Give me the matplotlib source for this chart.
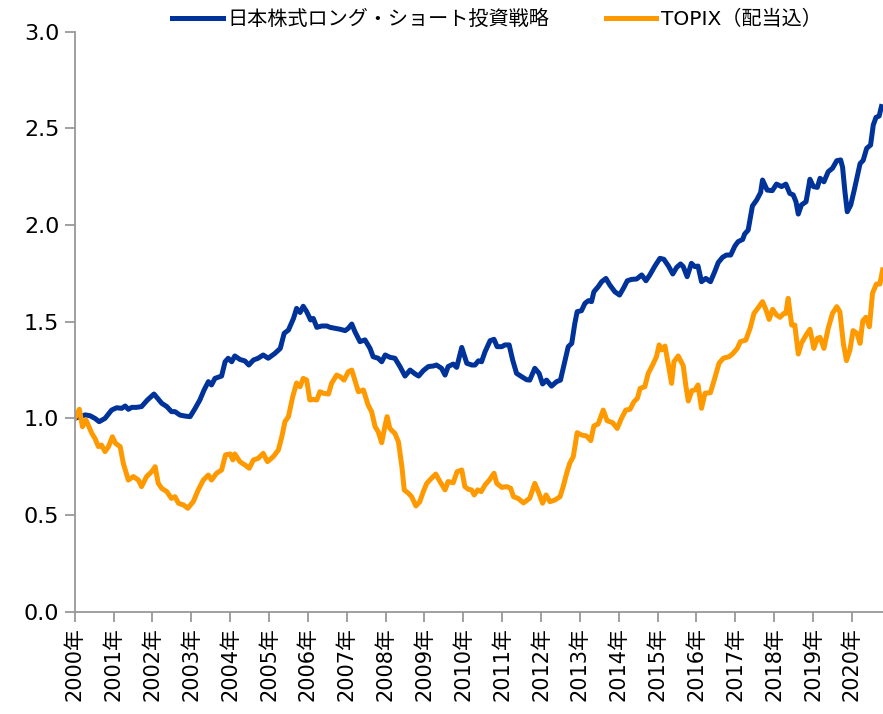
import numpy as np
import matplotlib
matplotlib.use("Agg")
import matplotlib.pyplot as plt

plt.rcParams['font.family'] = ['DejaVu Sans', 'Noto Sans CJK JP']

## series (decimal year, index value)
ls_t = [2000.00, 2000.27, 2000.39, 2000.52, 2000.63, 2000.78, 2000.95, 2001.08, 2001.21, 2001.30,
        2001.38, 2001.47, 2001.59, 2001.72, 2001.87, 2002.04, 2002.24, 2002.37, 2002.49, 2002.58,
        2002.71, 2002.84, 2002.97, 2003.10, 2003.22, 2003.33, 2003.44, 2003.52, 2003.61, 2003.78,
        2003.87, 2003.95, 2004.04, 2004.12, 2004.25, 2004.38, 2004.48, 2004.60, 2004.72, 2004.85,
        2004.98, 2005.15, 2005.29, 2005.39, 2005.50, 2005.63, 2005.71, 2005.80, 2005.88, 2005.97,
        2006.07, 2006.14, 2006.23, 2006.36, 2006.49, 2006.57, 2006.70, 2006.83, 2006.96, 2007.04,
        2007.13, 2007.21, 2007.34, 2007.47, 2007.60, 2007.68, 2007.81, 2007.90, 2007.99, 2008.11,
        2008.24, 2008.37, 2008.50, 2008.63, 2008.76, 2008.85, 2008.97, 2009.10, 2009.23, 2009.31,
        2009.44, 2009.53, 2009.61, 2009.74, 2009.83, 2009.96, 2010.09, 2010.22, 2010.30, 2010.39,
        2010.47, 2010.56, 2010.69, 2010.79, 2010.87, 2010.99, 2011.07, 2011.18, 2011.27, 2011.37,
        2011.50, 2011.63, 2011.71, 2011.84, 2011.95, 2012.04, 2012.14, 2012.27, 2012.40, 2012.50,
        2012.61, 2012.70, 2012.79, 2012.87, 2012.93, 2013.04, 2013.13, 2013.22, 2013.30, 2013.36,
        2013.47, 2013.56, 2013.67, 2013.77, 2013.90, 2014.02, 2014.12, 2014.22, 2014.33, 2014.46,
        2014.59, 2014.70, 2014.80, 2014.93, 2015.06, 2015.16, 2015.28, 2015.39, 2015.49, 2015.59,
        2015.66, 2015.76, 2015.87, 2015.96, 2016.04, 2016.13, 2016.24, 2016.36, 2016.47, 2016.56,
        2016.67, 2016.77, 2016.88, 2016.99, 2017.07, 2017.19, 2017.24, 2017.33, 2017.44, 2017.55,
        2017.65, 2017.70, 2017.82, 2017.95, 2018.06, 2018.19, 2018.30, 2018.40, 2018.49, 2018.56,
        2018.62, 2018.70, 2018.82, 2018.92, 2019.01, 2019.11, 2019.18, 2019.28, 2019.39, 2019.50,
        2019.61, 2019.71, 2019.76, 2019.82, 2019.88, 2019.97, 2020.06, 2020.21, 2020.29, 2020.38,
        2020.48, 2020.55, 2020.62, 2020.70, 2020.76]
ls_v = [1.000, 1.018, 1.014, 1.000, 0.983, 1.000, 1.043, 1.055, 1.052, 1.064,
        1.047, 1.057, 1.057, 1.061, 1.095, 1.126, 1.078, 1.061, 1.035, 1.035,
        1.017, 1.012, 1.009, 1.052, 1.095, 1.147, 1.190, 1.173, 1.207, 1.219,
        1.293, 1.311, 1.293, 1.323, 1.305, 1.297, 1.276, 1.302, 1.311, 1.328,
        1.311, 1.336, 1.362, 1.440, 1.457, 1.517, 1.569, 1.548, 1.580, 1.552,
        1.509, 1.517, 1.471, 1.478, 1.478, 1.471, 1.466, 1.461, 1.454, 1.466,
        1.488, 1.449, 1.397, 1.406, 1.362, 1.319, 1.311, 1.293, 1.328, 1.316,
        1.311, 1.268, 1.219, 1.250, 1.230, 1.219, 1.247, 1.268, 1.271, 1.276,
        1.259, 1.224, 1.268, 1.281, 1.264, 1.367, 1.285, 1.276, 1.276, 1.298,
        1.293, 1.345, 1.402, 1.409, 1.371, 1.371, 1.380, 1.380, 1.302, 1.233,
        1.216, 1.200, 1.198, 1.259, 1.233, 1.178, 1.198, 1.167, 1.190, 1.198,
        1.293, 1.371, 1.388, 1.492, 1.552, 1.557, 1.595, 1.609, 1.604, 1.655,
        1.681, 1.707, 1.724, 1.690, 1.655, 1.638, 1.673, 1.712, 1.719, 1.721,
        1.742, 1.712, 1.742, 1.788, 1.828, 1.823, 1.788, 1.747, 1.781, 1.799,
        1.785, 1.733, 1.802, 1.785, 1.788, 1.707, 1.724, 1.707, 1.759, 1.806,
        1.833, 1.845, 1.845, 1.892, 1.914, 1.926, 1.954, 1.974, 2.099, 2.130,
        2.168, 2.233, 2.181, 2.178, 2.212, 2.199, 2.212, 2.164, 2.156, 2.121,
        2.057, 2.104, 2.121, 2.237, 2.199, 2.195, 2.242, 2.224, 2.276, 2.294,
        2.333, 2.337, 2.299, 2.173, 2.069, 2.104, 2.181, 2.318, 2.335, 2.397,
        2.414, 2.518, 2.557, 2.564, 2.613]

tpx_t = [2000.00, 2000.12, 2000.20, 2000.29, 2000.44, 2000.52, 2000.61, 2000.69, 2000.78, 2000.87,
         2000.97, 2001.05, 2001.17, 2001.25, 2001.38, 2001.51, 2001.64, 2001.72, 2001.85, 2001.98,
         2002.07, 2002.15, 2002.24, 2002.37, 2002.49, 2002.58, 2002.67, 2002.80, 2002.91, 2003.05,
         2003.18, 2003.31, 2003.44, 2003.52, 2003.65, 2003.78, 2003.88, 2004.00, 2004.07, 2004.12,
         2004.25, 2004.38, 2004.49, 2004.60, 2004.72, 2004.85, 2004.96, 2005.11, 2005.24, 2005.33,
         2005.41, 2005.50, 2005.61, 2005.71, 2005.80, 2005.88, 2005.97, 2006.05, 2006.14, 2006.23,
         2006.31, 2006.40, 2006.53, 2006.61, 2006.74, 2006.83, 2006.93, 2007.04, 2007.13, 2007.21,
         2007.30, 2007.43, 2007.55, 2007.64, 2007.73, 2007.81, 2007.90, 2007.99, 2008.04, 2008.11,
         2008.24, 2008.33, 2008.42, 2008.48, 2008.59, 2008.67, 2008.78, 2008.88, 2008.97, 2009.06,
         2009.18, 2009.29, 2009.40, 2009.53, 2009.61, 2009.74, 2009.84, 2009.96, 2010.04, 2010.13,
         2010.21, 2010.28, 2010.37, 2010.46, 2010.56, 2010.67, 2010.79, 2010.86, 2010.99, 2011.12,
         2011.22, 2011.29, 2011.41, 2011.55, 2011.71, 2011.84, 2011.93, 2012.04, 2012.13, 2012.23,
         2012.36, 2012.49, 2012.57, 2012.66, 2012.74, 2012.83, 2012.93, 2013.04, 2013.17, 2013.28,
         2013.36, 2013.47, 2013.60, 2013.70, 2013.84, 2013.96, 2014.07, 2014.18, 2014.29, 2014.39,
         2014.48, 2014.55, 2014.67, 2014.76, 2014.87, 2014.97, 2015.04, 2015.10, 2015.19, 2015.27,
         2015.36, 2015.42, 2015.53, 2015.66, 2015.73, 2015.79, 2015.88, 2015.96, 2016.04, 2016.13,
         2016.22, 2016.36, 2016.47, 2016.58, 2016.69, 2016.84, 2016.94, 2017.05, 2017.13, 2017.27,
         2017.38, 2017.48, 2017.59, 2017.70, 2017.79, 2017.87, 2017.96, 2018.06, 2018.15, 2018.25,
         2018.30, 2018.36, 2018.45, 2018.53, 2018.62, 2018.70, 2018.82, 2018.92, 2019.02, 2019.11,
         2019.18, 2019.28, 2019.39, 2019.50, 2019.61, 2019.69, 2019.78, 2019.86, 2019.95, 2020.03,
         2020.13, 2020.21, 2020.28, 2020.36, 2020.45, 2020.53, 2020.63, 2020.72, 2020.79]
tpx_v = [1.000, 1.047, 0.957, 0.992, 0.923, 0.897, 0.854, 0.862, 0.828, 0.854,
         0.905, 0.871, 0.854, 0.768, 0.681, 0.699, 0.681, 0.647, 0.699, 0.724,
         0.750, 0.664, 0.638, 0.621, 0.586, 0.595, 0.561, 0.552, 0.535, 0.569,
         0.630, 0.681, 0.707, 0.681, 0.716, 0.733, 0.811, 0.816, 0.785, 0.816,
         0.776, 0.759, 0.742, 0.785, 0.793, 0.819, 0.776, 0.802, 0.836, 0.905,
         0.983, 1.009, 1.112, 1.183, 1.164, 1.207, 1.198, 1.095, 1.098, 1.095,
         1.138, 1.130, 1.126, 1.181, 1.224, 1.216, 1.198, 1.241, 1.250, 1.198,
         1.138, 1.147, 1.069, 1.035, 0.957, 0.931, 0.874, 0.966, 1.009, 0.948,
         0.922, 0.879, 0.750, 0.630, 0.612, 0.595, 0.547, 0.569, 0.621, 0.664,
         0.690, 0.712, 0.673, 0.630, 0.673, 0.667, 0.724, 0.733, 0.647, 0.633,
         0.630, 0.604, 0.630, 0.621, 0.656, 0.681, 0.716, 0.664, 0.643, 0.647,
         0.638, 0.595, 0.586, 0.563, 0.587, 0.664, 0.621, 0.561, 0.604, 0.569,
         0.578, 0.595, 0.647, 0.716, 0.768, 0.802, 0.926, 0.914, 0.909, 0.885,
         0.961, 0.971, 1.043, 0.988, 0.978, 0.948, 1.000, 1.043, 1.047, 1.086,
         1.104, 1.155, 1.164, 1.233, 1.276, 1.319, 1.380, 1.354, 1.374, 1.285,
         1.181, 1.293, 1.323, 1.272, 1.164, 1.090, 1.143, 1.147, 1.173, 1.052,
         1.130, 1.133, 1.207, 1.285, 1.311, 1.319, 1.336, 1.362, 1.397, 1.405,
         1.466, 1.543, 1.573, 1.604, 1.561, 1.512, 1.564, 1.535, 1.523, 1.543,
         1.543, 1.621, 1.483, 1.483, 1.333, 1.388, 1.431, 1.461, 1.362, 1.414,
         1.419, 1.362, 1.466, 1.543, 1.578, 1.552, 1.388, 1.299, 1.354, 1.454,
         1.440, 1.388, 1.505, 1.523, 1.474, 1.647, 1.695, 1.695, 1.768]

years = list(range(2000, 2021))
year_labels = [str(y) + "年" for y in years]
y_ticks = [0.0, 0.5, 1.0, 1.5, 2.0, 2.5, 3.0]

fig = plt.figure(figsize=(8.83, 7.14), dpi=100)
ax = fig.add_axes([0.0846, 0.1433, 0.9154, 0.8122])

ax.plot(ls_t, ls_v, color="#003399", lw=3.6, solid_joinstyle="round",
        label="日本株式ロング・ショート投資戦略")
ax.plot(tpx_t, tpx_v, color="#FF9900", lw=3.6, solid_joinstyle="round",
        label="TOPIX（配当込）")

ax.set_xlim(2000, 2020.8)
ax.set_ylim(0, 3.0)
ax.set_xticks(years)
ax.set_xticklabels(year_labels, rotation=90, fontsize=15)
ax.set_yticks(y_ticks)
ax.set_yticklabels(["%.1f" % v for v in y_ticks], fontsize=16)

for s in ["top", "right"]:
    ax.spines[s].set_visible(False)
for s in ["left", "bottom"]:
    ax.spines[s].set_color("#999999")
    ax.spines[s].set_linewidth(1.3)
ax.tick_params(axis="both", direction="out", length=7, width=1.3, color="#999999", pad=4)

fig.legend(loc="center", bbox_to_anchor=(0.563, 0.973), ncol=2, frameon=False,
           fontsize=14.5, handlelength=2.5, handletextpad=0.25, columnspacing=2.8)

plt.savefig("out.png", dpi=100)
